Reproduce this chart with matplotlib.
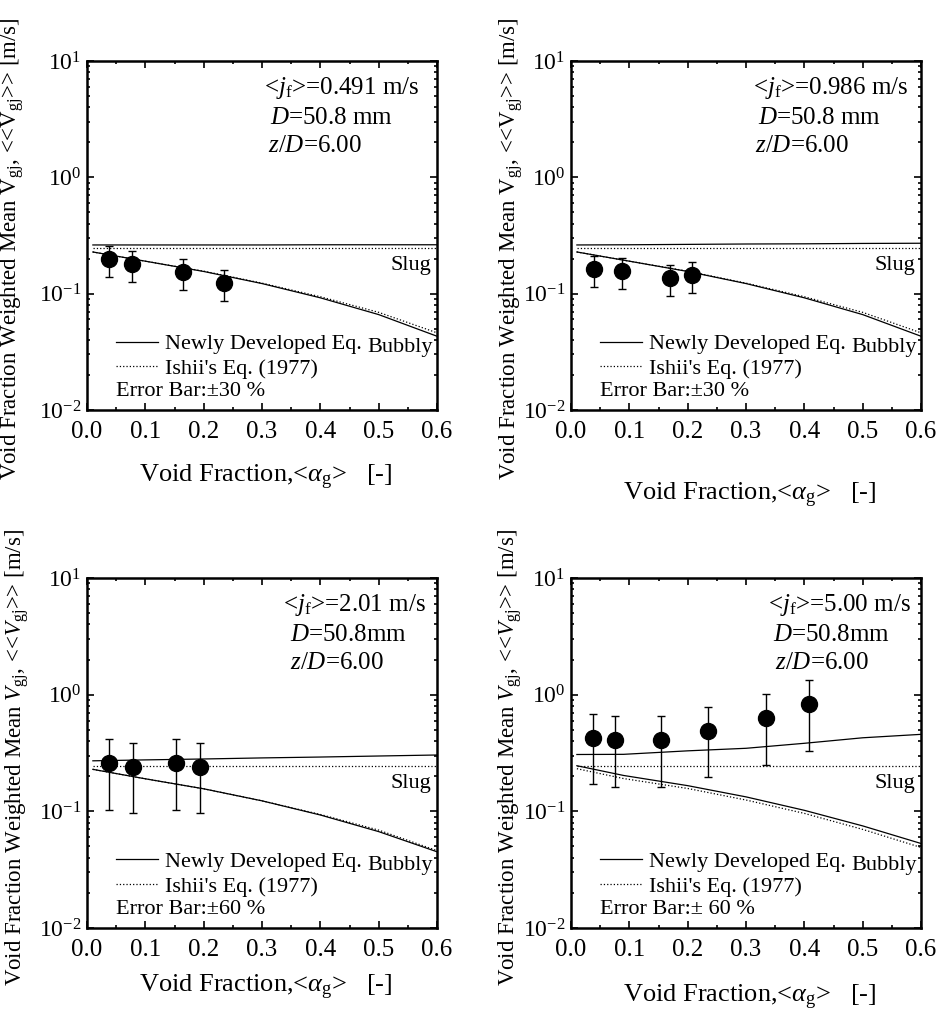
import numpy as np
import matplotlib
matplotlib.use('Agg')
import matplotlib.pyplot as plt
from matplotlib.ticker import LogLocator, NullFormatter, MultipleLocator, FormatStrFormatter

plt.rcParams['font.family'] = ['Liberation Serif', 'DejaVu Serif']
plt.rcParams['mathtext.fontset'] = 'custom'
plt.rcParams['mathtext.rm'] = 'Liberation Serif'
plt.rcParams['mathtext.it'] = 'Liberation Serif:italic'
plt.rcParams['mathtext.bf'] = 'Liberation Serif:bold'

# measured points: <alpha_g> and <<Vgj>> [m/s]
alpha_1 = [0.037, 0.077, 0.165, 0.235]
vgj_1 = [0.199, 0.180, 0.154, 0.123]
alpha_2 = [0.039, 0.087, 0.170, 0.207]
vgj_2 = [0.162, 0.157, 0.136, 0.145]
alpha_3 = [0.037, 0.079, 0.153, 0.193]
vgj_3 = [0.258, 0.241, 0.258, 0.241]
alpha_4 = [0.038, 0.075, 0.155, 0.234, 0.335, 0.408]
vgj_4 = [0.428, 0.408, 0.408, 0.490, 0.627, 0.830]
err_frac = [0.30, 0.30, 0.60, 0.60]

# model curves
alpha_curve = [0.01, 0.1, 0.2, 0.3, 0.4, 0.5, 0.6]
alpha_curve_4 = [0.01, 0.09, 0.2, 0.3, 0.4, 0.5, 0.6]

new_bubbly_1 = [0.228, 0.190, 0.155, 0.122, 0.092, 0.066, 0.043]
ishii_bubbly_1 = [0.228, 0.190, 0.156, 0.123, 0.094, 0.069, 0.046]
new_slug_1 = [0.262, 0.262, 0.262, 0.262, 0.263, 0.263, 0.263]

new_bubbly_2 = [0.228, 0.190, 0.155, 0.122, 0.092, 0.066, 0.043]
ishii_bubbly_2 = [0.228, 0.190, 0.156, 0.123, 0.094, 0.069, 0.046]
new_slug_2 = [0.262, 0.263, 0.265, 0.267, 0.268, 0.270, 0.271]

new_bubbly_3 = [0.229, 0.190, 0.156, 0.123, 0.093, 0.067, 0.045]
ishii_bubbly_3 = [0.229, 0.190, 0.156, 0.123, 0.094, 0.069, 0.046]
new_slug_3 = [0.271, 0.276, 0.281, 0.287, 0.292, 0.298, 0.304]

new_bubbly_4 = [0.246, 0.203, 0.166, 0.133, 0.102, 0.075, 0.053]
ishii_bubbly_4 = [0.232, 0.191, 0.157, 0.125, 0.096, 0.070, 0.049]
new_slug_4 = [0.307, 0.308, 0.330, 0.347, 0.383, 0.427, 0.457]

ishii_slug = 0.247

jf_labels = ['0.491 m/s', '0.986 m/s', '2.01 m/s', '5.00 m/s']
d_labels = ['50.8 mm', '50.8 mm', '50.8mm', '50.8mm']
err_labels = ['Error Bar:\u00b130 %', 'Error Bar:\u00b130 %', 'Error Bar:\u00b160 %', 'Error Bar:\u00b1 60 %']

panels = [
    (alpha_1, vgj_1, alpha_curve, new_bubbly_1, ishii_bubbly_1, new_slug_1),
    (alpha_2, vgj_2, alpha_curve, new_bubbly_2, ishii_bubbly_2, new_slug_2),
    (alpha_3, vgj_3, alpha_curve, new_bubbly_3, ishii_bubbly_3, new_slug_3),
    (alpha_4, vgj_4, alpha_curve_4, new_bubbly_4, ishii_bubbly_4, new_slug_4),
]

# axes boxes in figure fractions
boxes = [
    [0.0924, 0.5957, 0.3716, 0.3442],
    [0.6062, 0.5957, 0.3716, 0.3442],
    [0.0924, 0.0848, 0.3716, 0.3452],
    [0.6062, 0.0848, 0.3716, 0.3452],
]
ylab_xy = [(-0.174, 0.462), (-0.131, 0.462), (-0.16, 0.486), (-0.134, 0.486)]
xlab_xy = [(0.51, -0.152), (0.509, -0.203), (0.51, -0.128), (0.509, -0.157)]
note_x = [(0.506, 0.523, 0.517), (0.52, 0.534, 0.526), (0.56, 0.58, 0.58), (0.563, 0.577, 0.583)]

fig = plt.figure(figsize=(9.42, 10.14), dpi=100)

for i, (ax_alpha, ax_vgj, xc, nb, ib, ns) in enumerate(panels):
    ax = fig.add_axes(boxes[i])
    ax.set_yscale('log')

    ax.plot(xc, nb, '-', color='black', lw=0.9, label='Newly Developed Eq.')
    ax.plot(xc, ib, ':', color='black', lw=0.9, label="Ishii's Eq. (1977)")
    ax.plot(xc, ns, '-', color='black', lw=0.9)
    ax.plot([xc[0], xc[-1]], [ishii_slug, ishii_slug], ':', color='black', lw=0.9)

    v = np.array(ax_vgj)
    ax.errorbar(ax_alpha, v, yerr=err_frac[i] * v, fmt='o', color='black',
                ms=11.5, capsize=3, elinewidth=1, capthick=1)

    ax.set_xlim(0, 0.6)
    ax.set_ylim(1e-2, 1e1)
    ax.xaxis.set_major_locator(MultipleLocator(0.1))
    ax.xaxis.set_minor_locator(MultipleLocator(0.05))
    ax.xaxis.set_major_formatter(FormatStrFormatter('%.1f'))
    ax.yaxis.set_major_locator(LogLocator(base=10, numticks=10))
    ax.yaxis.set_minor_locator(LogLocator(base=10, subs=np.arange(2, 10), numticks=10))
    ax.yaxis.set_minor_formatter(NullFormatter())
    ax.tick_params(which='both', direction='in', top=True, right=True, width=1.2)
    ax.tick_params(axis='x', which='major', labelsize=18, pad=8)
    ax.tick_params(axis='y', which='major', labelsize=17, pad=4)
    ax.tick_params(which='major', length=5)
    ax.tick_params(which='minor', length=2.5)
    for sp in ax.spines.values():
        sp.set_linewidth(1.8)

    if i < 2:
        ylab = r'Void Fraction Weighted Mean V$_{\rm gj}$, <<V$_{\rm gj}$>> [m/s]'
    else:
        ylab = r'Void Fraction Weighted Mean $V_{\rm gj}$, <<$V_{\rm gj}$>> [m/s]'
    ax.set_ylabel(ylab, fontsize=16.5)
    ax.yaxis.set_label_coords(*ylab_xy[i])
    ax.set_xlabel(r'Void Fraction,<$\alpha_{\rm g}$>   [-]', fontsize=19)
    ax.xaxis.set_label_coords(*xlab_xy[i])

    nx = note_x[i]
    ax.text(nx[0], 0.922, r'<$j_{\rm f}$>=' + jf_labels[i], transform=ax.transAxes,
            fontsize=18, va='center', ha='left')
    ax.text(nx[1], 0.836, r'$D$=' + d_labels[i], transform=ax.transAxes,
            fontsize=18, va='center', ha='left')
    ax.text(nx[2], 0.756, r'$z$/$D$=6.00', transform=ax.transAxes,
            fontsize=18, va='center', ha='left')

    ax.text(0.983, 0.413, 'Slug', transform=ax.transAxes, fontsize=16, va='center', ha='right')
    ax.text(0.988, 0.18, 'Bubbly', transform=ax.transAxes, fontsize=16, va='center', ha='right')

    ax.legend(loc='upper left', bbox_to_anchor=(0.084, 0.218), frameon=False, fontsize=16,
              handlelength=1.85, handletextpad=0.35, labelspacing=0.17, borderpad=0,
              borderaxespad=0)
    ax.text(0.083, 0.052, err_labels[i], transform=ax.transAxes, fontsize=16,
            va='center', ha='left')

fig.savefig('out.png', dpi=100)
